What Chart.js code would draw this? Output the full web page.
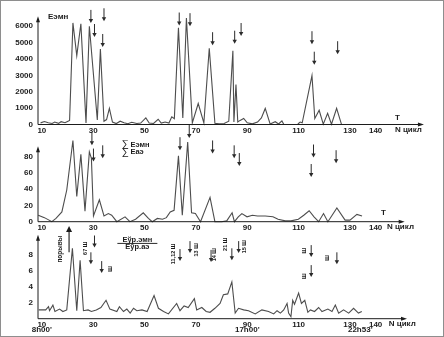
<!DOCTYPE html>
<html>
<head>
<meta charset="utf-8">
<script src="https://cdn.jsdelivr.net/npm/chart.js@4.4.1/dist/chart.umd.min.js"></script>
<style>
  html, body { margin: 0; padding: 0; background: #fff; }
  #wrap { position: relative; width: 444px; height: 337px; }
  #wrap canvas { position: absolute; left: 0; top: 0; }
  #frame { position: absolute; inset: 0; border: 1px solid #8e8e8e; box-sizing: border-box; pointer-events: none; }
</style>
</head>
<body>
<div id="wrap">
  <canvas id="c1" width="444" height="337"></canvas>
  <canvas id="c2" width="444" height="337"></canvas>
  <canvas id="c3" width="444" height="337"></canvas>
  <div id="frame"></div>
</div>
<script>
// ---------- Data ----------
const N_TICKS = [10, 30, 50, 70, 90, 110, 130, 140];

// Panel 1 : Eэмн
const topN = [9.5, 11, 12.5, 14, 15, 16.5, 17.5, 19, 20, 20.8, 22.1, 23.6, 25.2, 27.2, 28.5, 31.6, 32.8, 34.2, 35.2, 36.3,
  37.5, 39, 40.5, 42, 43.5, 45, 47, 48.5, 50.5, 51.8, 53.5, 55.3, 56.5, 58, 59.5, 60.6, 61.6, 63.2, 64.9, 66.3,
  68.6, 70.9, 73.1, 75.2, 77.4, 79, 81, 82.8, 84.4, 84.8, 85.6, 86.3, 87.2, 88.6, 90, 92, 94, 95.5, 97, 98.9,
  100.9, 102.2, 103.5, 104.2, 107, 109.7, 110.6, 111.4, 115.2, 116.3, 118, 119.6, 121.3, 122.8, 124.8, 126.7];
const topE = [100, 180, 110, 60, 150, 70, 170, 110, 190, 250, 6200, 4200, 6150, 100, 6000, 270, 4600, 200, 300, 980,
  150, 60, 200, 110, 50, 140, 60, 90, 400, 90, 60, 320, 90, 150, 90, 470, 350, 5900, 400, 6500,
  100, 1280, 100, 4650, 80, 40, 60, 200, 4500, 150, 2440, 150, 250, 370, 100, 40, 150, 400, 980, 30,
  170, 30, 220, 20, null, 30, 150, 100, 2985, 370, 870, 20, 680, 20, 980, 10];
const topTicks = [0, 1000, 2000, 3000, 4000, 5000, 6000];
const topArrN = [29.1, 30.5, 34.2, 33.7, 63.5, 67.7, 76.5, 85.1, 87.6, 115.2, 116.1, 125.2];
const topArrE = [6200, 5340, 6300, 4730, 6040, 6000, 4840, 4930, 5400, 4900, 3650, 4290];

// Panel 2 : ∑Eэмн / ∑Eаэ
const midN = [8.6, 11, 13.9, 15.5, 17.8, 19.7, 22.1, 23.6, 25.2, 26.8, 28.5, 29.3, 30.1, 32.4, 34.2, 35.9, 37.2, 39.2, 42.4, 44.3,
  46.5, 49.5, 51.5, 53, 55, 57, 58.5, 60, 61.5, 63.2, 64.7, 66.8, 68.3, 69.8, 71.8, 75.5, 77.4, 80, 82, 84.1,
  85, 86.5, 87.9, 89.9, 92, 94, 97, 100, 102, 104.8, 107, 109.9, 112, 114.1, 116, 117.8, 119.7, 121.4, 124.9, 128.1,
  130, 132.7, 134.7];
const midE = [8, 5, 0, 4, 12, 39, 100, 31, 83, 13, 86, 78, 7, 27, 7, 10, 8, 0, 6, 0,
  3, 11, 4, 0, 4, 3, 5, 12, 14, 81, 8, 98, 11, 10, 0, 30, 0, 0, 1, 11,
  0, 6, 10, 6, 8, 7, 7, 6, 3, 1, 1, 3, 8, 13.5, 6, 0, 10, 0, 17, 2,
  2, 9, 7];
const midTicks = [0, 20, 40, 60, 80];
const midArrN = [29.5, 30.1, 33.7, 63.8, 67.4, 76.5, 84.9, 86.9, 115.8, 114.9, 124.6];
const midArrE = [94, 74, 78, 88, 103, 84, 78, 68.5, 79, 55, 72];

// Panel 3 : Eўр.эмн / Eўр.аэ
const botN = [8.8, 10, 11.5, 12.6, 13, 14.3, 15.1, 16.9, 18.2, 19.7, 21.9, 23.6, 24.9, 26.2, 28, 29.3, 31.2, 33, 35, 36.5,
  39.2, 40.2, 41.8, 43.1, 44.4, 45.7, 47, 49, 51, 53.7, 55.4, 57.4, 59.3, 62.5, 63.8, 65.4, 67, 69.4, 70.3, 72.3,
  74, 75.5, 77.4, 79.4, 80.7, 82.4, 84, 85.3, 86.6, 88.6, 90.5, 93.1, 95.7, 98.3, 100.3, 101.6, 102.9, 104.2, 105.5, 106.1,
  107, 107.7, 108.4, 110, 111.1, 112.4, 113.6, 114.6, 116.2, 117.8, 119.1, 121.4, 123, 124.3, 125.6, 127.5, 129.5, 131.4, 133.3, 134.6];
const botE = [1.1, 1.1, 1.1, 1.5, 1.0, 1.7, 0.9, 1.2, 0.9, 1.1, 8.8, 1.0, 7.3, 1.0, 1.1, 0.9, 1.1, 1.4, 2.3, 1.2,
  0.9, 1.5, 0.9, 1.2, 0.7, 1.3, 1.0, 1.1, 0.9, 2.9, 1.3, 0.9, 0.6, 1.9, 1.0, 1.6, 1.4, 2.5, 1.1, 1.4,
  0.9, 0.8, 1.3, 1.9, 3.0, 3.1, 4.6, 0.7, 1.3, 1.1, 1.0, 0.6, 1.1, 0.9, 0.6, 1.0, 0.7, 1.1, 1.9, 0.7,
  0.25, 2.3, 1.8, 3.2, 1.9, 2.3, 0.8, 1.1, 0.9, 1.4, 0.9, 1.2, 0.9, 1.7, 0.7, 1.1, 0.7, 1.3, 0.7, 0.9];
const botTicks = [2, 4, 6, 8];
const botArrN = [30.5, 29.1, 33.3, 63.8, 67.7, 75.9, 84.0, 86.65, 114.9, 114.9, 124.9];
const botArrE = [8.9, 6.8, 5.7, 7.2, 8.2, 7.1, 7.3, 8.2, 7.7, 5.2, 6.8];
const botLabN = [26.85, 36.6, 61.1, 70.4, 77.4, 81.7, 89.1, 112.1, 112.1, 121.4];
const botLabE = [8.8, 6.2, 8.1, 8.6, 8.0, 9.3, 9.0, 8.5, 5.3, 7.6];
const botLabText = ["67 Ш", "Ш", "11,12 Ш", "13 Ш", "14 Ш", "21 Ш", "15 Ш", "Ш", "Ш", "Ш"];
const timeN = [10, 90, 134];
const timeText = ["8h00'", "17h00'", "22h53'"];

// ---------- Helpers ----------
const pts = (xs, ys) => xs.map((x, i) => ({ x, y: ys[i] }));
const FONT = "'Liberation Sans', Arial, sans-serif";
const INK = "#1c1c1c";

function downArrow(ctx, x, yTip, len) {
  ctx.beginPath();
  ctx.moveTo(x, yTip - len);
  ctx.lineTo(x, yTip - 3);
  ctx.stroke();
  ctx.beginPath();
  ctx.moveTo(x - 2.2, yTip - 4);
  ctx.lineTo(x + 2.2, yTip - 4);
  ctx.lineTo(x, yTip);
  ctx.closePath();
  ctx.fill();
}

function text(ctx, str, x, y, font, align = "left", rot = 0) {
  ctx.save();
  ctx.font = font;
  ctx.textAlign = align;
  ctx.textBaseline = "middle";
  ctx.translate(x, y);
  if (rot) ctx.rotate(rot);
  ctx.fillText(str, 0, 0);
  ctx.restore();
}

// axes with arrow tips + arrows + labels
function decoPlugin(d) {
  return {
    id: "deco",
    afterDraw(chart) {
      const { ctx, chartArea, scales: { x, y } } = chart;
      ctx.save();
      ctx.strokeStyle = INK;
      ctx.fillStyle = INK;
      ctx.lineWidth = 1;
      const y0 = y.getPixelForValue(0);
      const xEnd = x.getPixelForValue(d.xEnd);
      const yTop = y.getPixelForValue(d.yEnd);
      const xl = chartArea.left;
      // x axis
      ctx.beginPath(); ctx.moveTo(xl, y0); ctx.lineTo(xEnd - 3, y0); ctx.stroke();
      ctx.beginPath(); ctx.moveTo(xEnd, y0); ctx.lineTo(xEnd - 6, y0 - 2); ctx.lineTo(xEnd - 6, y0 + 2); ctx.closePath(); ctx.fill();
      // y axis
      ctx.beginPath(); ctx.moveTo(xl, y0); ctx.lineTo(xl, yTop + 3); ctx.stroke();
      ctx.beginPath(); ctx.moveTo(xl, yTop); ctx.lineTo(xl - 2, yTop + 6); ctx.lineTo(xl + 2, yTop + 6); ctx.closePath(); ctx.fill();
      // arrows
      ctx.strokeStyle = "#2a2a2a";
      ctx.fillStyle = "#2a2a2a";
      d.arrN.forEach((n, i) => downArrow(ctx, x.getPixelForValue(n), y.getPixelForValue(d.arrE[i]), d.arrLen));
      ctx.fillStyle = INK;
      // axis label
      text(ctx, "N цикл", x.getPixelForValue(d.nLabel), y0 + 5.5, `bold 8px ${FONT}`);
      if (d.extra) d.extra(ctx, x, y, y0);
      ctx.restore();
    },
  };
}

function makeChart(id, data, ticks, ymax, pad, deco) {
  return new Chart(document.getElementById(id), {
    type: "line",
    data: {
      datasets: [{
        data,
        borderColor: "#4d4d4d",
        borderWidth: 1.1,
        pointRadius: 0,
        tension: 0,
        spanGaps: false,
        clip: false,
      }],
    },
    options: {
      responsive: false,
      animation: false,
      events: [],
      layout: { padding: pad },
      plugins: { legend: { display: false }, tooltip: { enabled: false } },
      scales: {
        x: {
          type: "linear",
          min: 8.5,
          max: 160,
          grid: { display: false, drawTicks: false },
          border: { display: false },
          afterBuildTicks: (s) => { s.ticks = N_TICKS.map((v) => ({ value: v })); },
          afterFit: (s) => { s.height = 12; },
          ticks: { autoSkip: false, maxRotation: 0, padding: 1, color: INK, font: { size: 8, weight: "bold" },
            callback: (v) => String(v) },
        },
        y: {
          min: 0,
          max: ymax,
          grid: { display: false, drawTicks: false },
          border: { display: false },
          afterBuildTicks: (s) => { s.ticks = ticks.map((v) => ({ value: v })); },
          afterFit: (s) => { s.width = 38; },
          ticks: { padding: 5, color: INK, font: { size: 8, weight: "bold" }, callback: (v) => String(v) },
        },
      },
    },
    plugins: [decoPlugin(deco)],
  });
}

// ---------- Init ----------
Chart.defaults.font.family = FONT;

makeChart("c1", pts(topN, topE), topTicks, 7000,
  { left: 0, right: 17, top: 8, bottom: 200.5 },
  {
    xEnd: 158.8, yEnd: 6600, nLabel: 147.5,
    arrN: topArrN, arrE: topArrE, arrLen: 13,
    extra: (ctx, x, y, y0) => {
      text(ctx, "Еэмн", 48, y.getPixelForValue(6600), `bold 8px ${FONT}`);
      text(ctx, "T", x.getPixelForValue(148.5), y0 - 7, `bold 8px ${FONT}`, "center");
    },
  });

makeChart("c2", pts(midN, midE), midTicks, 105,
  { left: 0, right: 17, top: 136.4, bottom: 103.3 },
  {
    xEnd: 151.3, yEnd: 93, nLabel: 144.4,
    arrN: midArrN, arrE: midArrE, arrLen: 13,
    extra: (ctx, x, y, y0) => {
      const lx = x.getPixelForValue(41);
      text(ctx, "∑", lx, y.getPixelForValue(95), `10px ${FONT}`);
      text(ctx, "Еэмн", lx + 9, y.getPixelForValue(95), `bold 7.5px ${FONT}`);
      text(ctx, "∑", lx, y.getPixelForValue(86), `10px ${FONT}`);
      text(ctx, "Еаэ", lx + 9, y.getPixelForValue(86), `bold 7.5px ${FONT}`);
      text(ctx, "T", x.getPixelForValue(143), y0 - 8.5, `bold 8px ${FONT}`, "center");
    },
  });

makeChart("c3", pts(botN, botE), botTicks, 12,
  { left: 0, right: 17, top: 222.7, bottom: 6.3 },
  {
    xEnd: 152.2, yEnd: 10.5, nLabel: 145.1,
    arrN: botArrN, arrE: botArrE, arrLen: 12,
    extra: (ctx, x, y, y0) => {
      // fraction label
      const cx = x.getPixelForValue(47.2);
      text(ctx, "Еўр.эмн", cx, y.getPixelForValue(9.85), `bold 7.5px ${FONT}`, "center");
      text(ctx, "Еўр.аэ", cx, y.getPixelForValue(8.95), `bold 7.5px ${FONT}`, "center");
      ctx.beginPath();
      ctx.moveTo(cx - 20, y.getPixelForValue(9.41));
      ctx.lineTo(cx + 20, y.getPixelForValue(9.41));
      ctx.stroke();
      // big upward arrow + label
      const ax = x.getPixelForValue(20.6);
      const aTop = y.getPixelForValue(11.6);
      ctx.lineWidth = 1.2;
      ctx.beginPath(); ctx.moveTo(ax, y.getPixelForValue(8.3)); ctx.lineTo(ax, aTop + 5); ctx.stroke();
      ctx.beginPath(); ctx.moveTo(ax, aTop); ctx.lineTo(ax - 3, aTop + 6); ctx.lineTo(ax + 3, aTop + 6); ctx.closePath(); ctx.fill();
      ctx.lineWidth = 1;
      text(ctx, "порывы", x.getPixelForValue(17.1), y.getPixelForValue(8.7), `bold 6.5px ${FONT}`, "center", -Math.PI / 2);
      // small rotated labels
      botLabN.forEach((n, i) =>
        text(ctx, botLabText[i], x.getPixelForValue(n), y.getPixelForValue(botLabE[i]), `bold 5.5px ${FONT}`, "center", -Math.PI / 2));
      // clock times under the axis
      timeN.forEach((n, i) =>
        text(ctx, timeText[i], x.getPixelForValue(n), y0 + 11, `bold 8px ${FONT}`, "center"));
    },
  });
</script>
</body>
</html>
